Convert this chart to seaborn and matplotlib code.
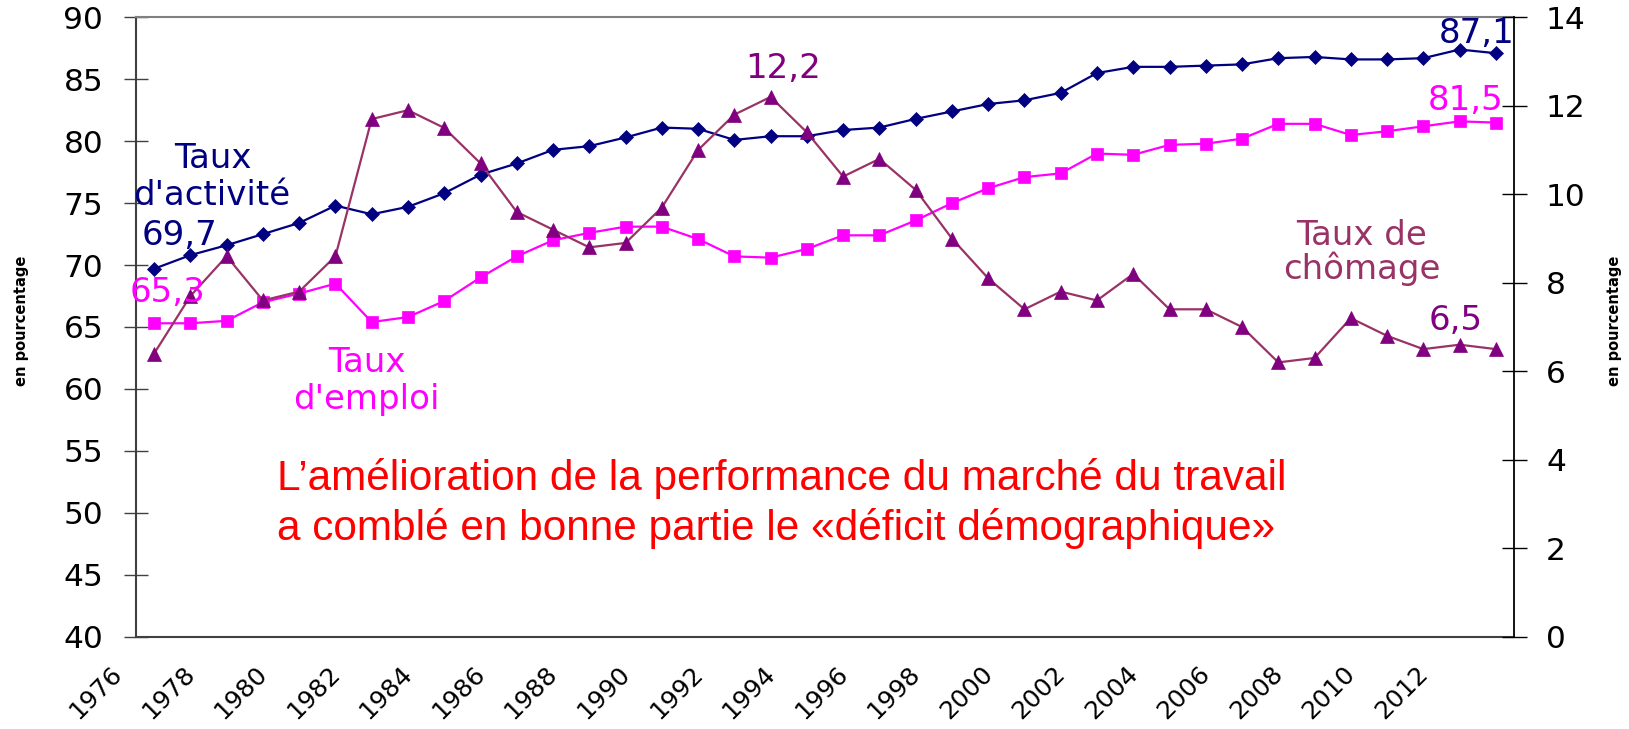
import matplotlib
matplotlib.use("Agg")
import matplotlib.pyplot as plt
import seaborn as sns
import numpy as np
import pandas as pd
from matplotlib.transforms import ScaledTranslation

# ---------------- data ----------------
years = list(range(1976, 2014))
taux_activite = [69.7, 70.8, 71.6, 72.5, 73.4, 74.8, 74.1, 74.7, 75.8,
                 77.3, 78.2, 79.3, 79.6, 80.3, 81.1, 81.0, 80.1, 80.4, 80.4, 80.9,
                 81.1, 81.8, 82.4, 83.0, 83.3, 83.9, 85.5, 86.0, 86.0, 86.1, 86.2,
                 86.7, 86.8, 86.6, 86.6, 86.7, 87.4, 87.1]
taux_emploi = [65.3, 65.3, 65.5, 67.0, 67.7, 68.5, 65.4, 65.8, 67.1,
               69.0, 70.7, 72.0, 72.6, 73.1, 73.1, 72.1, 70.7, 70.6, 71.3, 72.4,
               72.4, 73.6, 75.0, 76.2, 77.1, 77.4, 79.0, 78.9, 79.7, 79.8, 80.2,
               81.4, 81.4, 80.5, 80.8, 81.2, 81.6, 81.5]
taux_chomage = [6.4, 7.7, 8.6, 7.6, 7.8, 8.6, 11.7, 11.9, 11.5,
                10.7, 9.6, 9.2, 8.8, 8.9, 9.7, 11.0, 11.8, 12.2, 11.4, 10.4,
                10.8, 10.1, 9.0, 8.1, 7.4, 7.8, 7.6, 8.2, 7.4, 7.4, 7.0,
                6.2, 6.3, 7.2, 6.8, 6.5, 6.6, 6.5]
year_labels = [str(y) for y in years[::2]]
left_ticks = list(range(40, 91, 5))
right_ticks = list(range(0, 15, 2))

df = pd.DataFrame({"idx": np.arange(len(years)), "annee": years,
                   "activite": taux_activite, "emploi": taux_emploi,
                   "chomage": taux_chomage})

# ---------------- style ----------------
sns.set_style("white")
plt.rcParams['font.family'] = ['DejaVu Sans']
plt.rcParams['text.color'] = 'black'
plt.rcParams['xtick.labelcolor'] = 'black'
plt.rcParams['ytick.labelcolor'] = 'black'

W, H = 1629, 729
fig = plt.figure(figsize=(W / 100, H / 100), dpi=100)
L, R, T, B = 136, 1514, 17.3, 636.7
ax = fig.add_axes([L / W, 1 - B / H, (R - L) / W, (B - T) / H])
ax2 = ax.twinx()

NAVY = "#000080"
MAG = "#FF00FF"
PURP = "#800080"
PLUM = "#993366"

sns.lineplot(data=df, x="idx", y="activite", ax=ax, color=NAVY, marker="D",
             markersize=7, markeredgecolor=NAVY, markeredgewidth=0.5,
             linewidth=1.6, legend=False)
sns.lineplot(data=df, x="idx", y="emploi", ax=ax, color=MAG, marker="s",
             markersize=8.5, markeredgecolor=MAG, markeredgewidth=0.5,
             linewidth=1.6, legend=False)
sns.lineplot(data=df, x="idx", y="chomage", ax=ax2, color=PLUM, marker="^",
             markersize=9.5, markerfacecolor=PURP, markeredgecolor=PURP,
             markeredgewidth=0.5, linewidth=1.6, legend=False)

ax.set_xlim(-0.5, len(years) - 0.5)
ax.set_ylim(40, 90)
ax2.set_ylim(0, 14)
ax.set_yticks(left_ticks)
ax.set_yticklabels([str(t) for t in left_ticks])
ax2.set_yticks(right_ticks)
ax2.set_yticklabels([str(t) for t in right_ticks])
ax.set_xlabel("")
ax.set_ylabel("")
ax2.set_ylabel("")

# x ticks: marks at category boundaries, labels every 2 years
ax.set_xticks(np.arange(-0.5, len(years)), minor=True)
ax.set_xticks(np.arange(len(years))[::2])
ax.set_xticklabels(year_labels)
ax.tick_params(axis="x", which="major", length=0, pad=18, labelsize=18,
               labelcolor="black")
ax.tick_params(axis="x", which="minor", direction="inout", length=14.4,
               width=1.0, color="#404040")
ax.tick_params(axis="y", direction="inout", length=17.3, width=1.0,
               color="#404040", labelsize=22.5, pad=15, labelcolor="black")
ax2.tick_params(axis="y", direction="inout", length=18, width=1.0,
                color="black", labelsize=22.5, pad=14, labelcolor="black")
ax2.tick_params(axis="x", which="both", length=0, labelbottom=False)

shift = ScaledTranslation(-0.44, 0, fig.dpi_scale_trans)
for lbl in ax.get_xticklabels():
    lbl.set_rotation(45)
    lbl.set_rotation_mode("anchor")
    lbl.set_ha("right")
    lbl.set_va("top")
    lbl.set_transform(lbl.get_transform() + shift)

for s in ["left", "bottom", "top", "right"]:
    ax.spines[s].set_visible(False)
    ax2.spines[s].set_visible(False)
ax.spines["left"].set_visible(True)
ax.spines["left"].set_color("#404040")
ax.spines["left"].set_linewidth(1.5)
ax.spines["bottom"].set_visible(True)
ax.spines["bottom"].set_color("#404040")
ax.spines["bottom"].set_linewidth(1.5)
ax.spines["top"].set_visible(True)
ax.spines["top"].set_color("#808080")
ax.spines["top"].set_linewidth(1.5)
ax2.spines["right"].set_visible(True)
ax2.spines["right"].set_color("black")
ax2.spines["right"].set_linewidth(1.3)
ax.grid(False)
ax2.grid(False)


def fx(x):
    return x / W


def fy(y):
    return 1 - y / H


def put(x, y, s, color, size=24.5, ha="center", **kw):
    fig.text(fx(x), fy(y), s, color=color, fontsize=size, ha=ha,
             va="baseline", **kw)


put(213, 168, "Taux", NAVY)
put(212, 205, "d'activité", NAVY)
put(180, 245, "69,7", NAVY)
put(168, 302, "65,3", MAG)
put(367, 372, "Taux", MAG)
put(366, 409, "d'emploi", MAG)
put(783, 78, "12,2", PURP)
put(1477, 43, "87,1", NAVY)
put(1466, 110, "81,5", MAG)
put(1362, 245, "Taux de", PLUM)
put(1362, 279, "chômage", PLUM)
put(1456, 330, "6,5", PURP)

red_font = ["Liberation Sans", "DejaVu Sans"]
fig.text(fx(277), fy(490),
         "L\u2019amélioration de la performance du marché du travail",
         color="#FF0000", fontsize=30.5, ha="left", va="baseline",
         family=red_font)
fig.text(fx(277), fy(540),
         "a comblé en bonne partie le «déficit démographique»",
         color="#FF0000", fontsize=30.5, ha="left", va="baseline",
         family=red_font)

fig.text(fx(21.5), fy(321), "en pourcentage", rotation=90, fontsize=10.5,
         fontweight="bold", ha="center", va="center", color="black")
fig.text(fx(1615), fy(321), "en pourcentage", rotation=90, fontsize=10.5,
         fontweight="bold", ha="center", va="center", color="black")

fig.savefig("out.png", dpi=100, facecolor="white")
